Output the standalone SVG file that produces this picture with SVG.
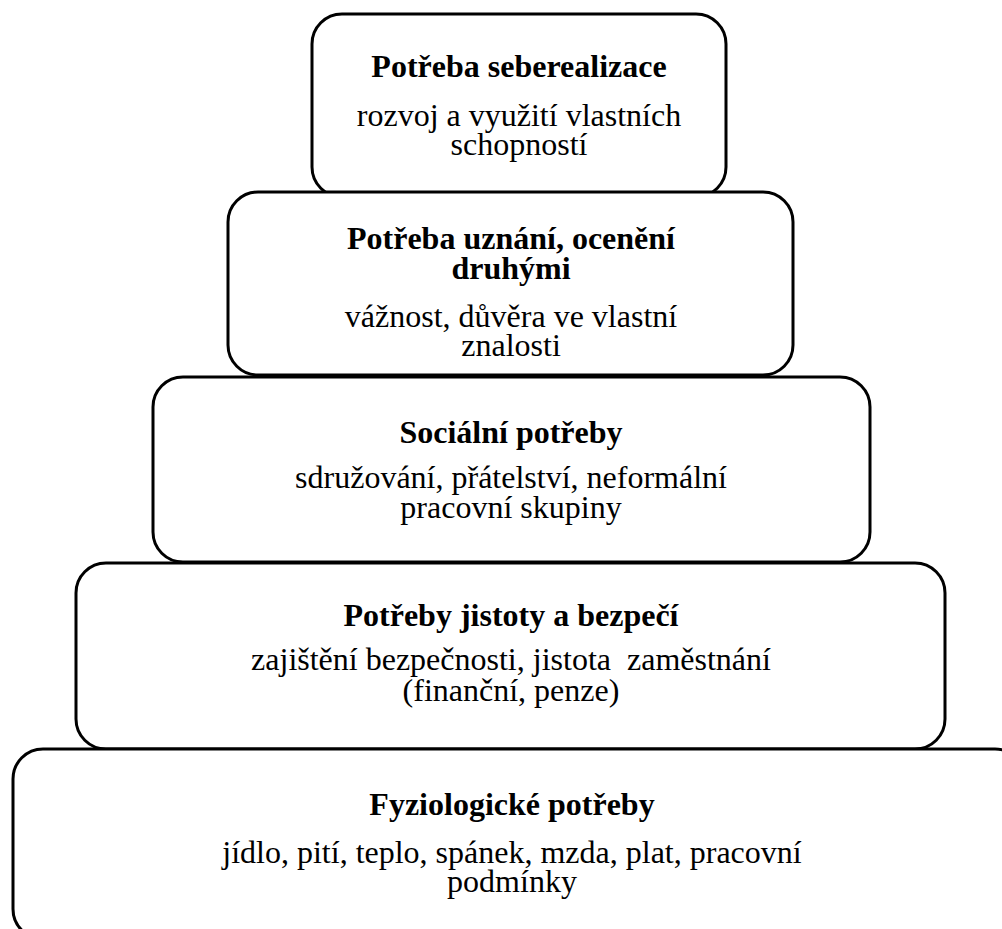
<svg xmlns="http://www.w3.org/2000/svg" width="1002" height="929" viewBox="0 0 1002 929">
<style>
.box{fill:#fff;stroke:#000;stroke-width:3}
.t{font-family:"Liberation Serif","Times New Roman",serif;font-size:32px;fill:#000;text-anchor:middle}
.b{font-weight:bold}
</style>
<rect width="1002" height="929" fill="#fff"/>
<g id="node-seberealizace">
<rect class="box" x="312" y="14" width="414" height="183" rx="30" ry="30"/>
<text class="t b" x="519" y="77">Potřeba seberealizace</text>
<text class="t" x="519" y="126">rozvoj a využití vlastních</text>
<text class="t" x="519" y="155">schopností</text>
</g>
<g id="node-uznani">
<rect class="box" x="228" y="192" width="565" height="183" rx="30" ry="30"/>
<text class="t b" x="511" y="249">Potřeba uznání, ocenění</text>
<text class="t b" x="511" y="279">druhými</text>
<text class="t" x="511" y="327">vážnost, důvěra ve vlastní</text>
<text class="t" x="511" y="356">znalosti</text>
</g>
<g id="node-socialni">
<rect class="box" x="153" y="377" width="717" height="185" rx="30" ry="30"/>
<text class="t b" x="511" y="443">Sociální potřeby</text>
<text class="t" x="511" y="488">sdružování, přátelství, neformální</text>
<text class="t" x="511" y="518">pracovní skupiny</text>
</g>
<g id="node-jistota">
<rect class="box" x="76" y="563" width="869" height="186" rx="30" ry="30"/>
<text class="t b" x="511" y="626">Potřeby jistoty a bezpečí</text>
<text class="t" x="511" y="670" xml:space="preserve">zajištění bezpečnosti, jistota  zaměstnání</text>
<text class="t" x="511" y="701">(finanční, penze)</text>
</g>
<g id="node-fyziologicke">
<rect class="box" x="13" y="749" width="1012" height="190" rx="30" ry="30"/>
<text class="t b" x="512" y="815">Fyziologické potřeby</text>
<text class="t" x="512" y="863">jídlo, pití, teplo, spánek, mzda, plat, pracovní</text>
<text class="t" x="512" y="892">podmínky</text>
</g>
<g id="connectors"/>
</svg>
